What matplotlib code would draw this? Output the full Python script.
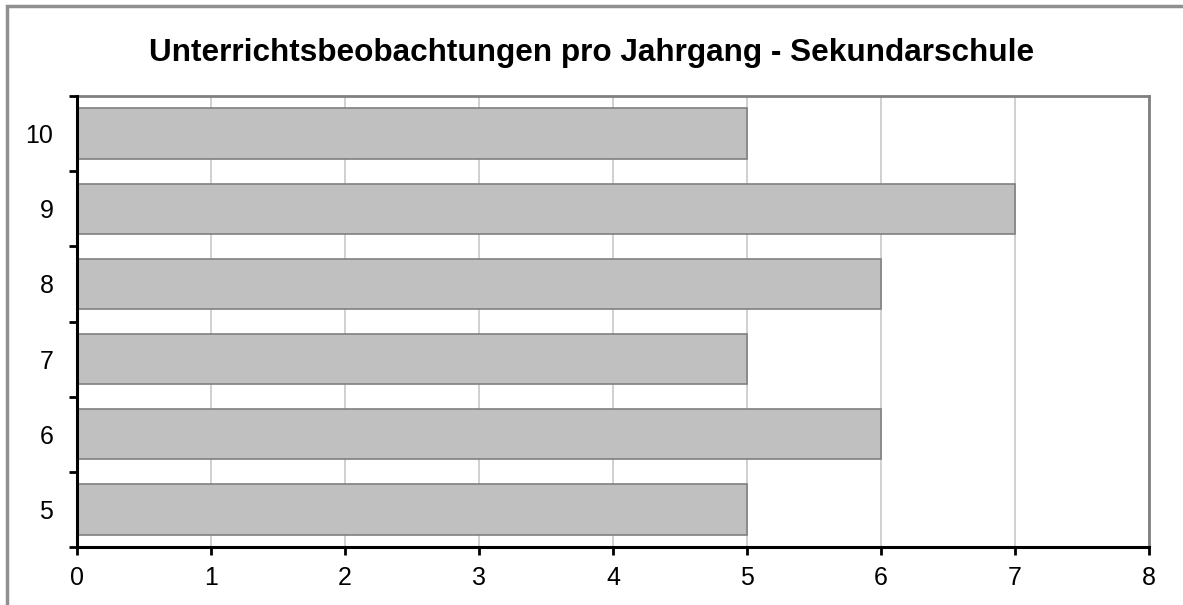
import matplotlib.pyplot as plt
from matplotlib.patches import Rectangle

plt.rcParams['font.family'] = ['Liberation Sans', 'DejaVu Sans']

jahrgang = ['5', '6', '7', '8', '9', '10']
anzahl = [5, 6, 5, 6, 7, 5]
xticks = [0, 1, 2, 3, 4, 5, 6, 7, 8]

fig = plt.figure(figsize=(11.83, 6.05), dpi=100)
W, H = 1183, 605
# plot area in pixels: left 77, right 1149, top 96, bottom 547
ax = fig.add_axes([77 / W, 1 - 547 / H, (1149 - 77) / W, (547 - 96) / H])

pos = list(range(len(jahrgang)))
ax.barh(pos, anzahl, height=0.67, color='#c0c0c0', edgecolor='#808080', linewidth=1.2, zorder=3)

ax.set_xlim(0, 8)
ax.set_ylim(-0.5, len(jahrgang) - 0.5)
ax.set_xticks(xticks)
ax.set_xticklabels([str(v) for v in xticks], fontsize=18)
ax.set_yticks(pos)
ax.set_yticklabels(jahrgang, fontsize=18)
ax.tick_params(axis='y', length=0, pad=17)
ax.set_yticks([p - 0.5 for p in pos] + [len(pos) - 0.5], minor=True)
ax.tick_params(axis='y', which='minor', length=6, width=2, direction='out')
ax.tick_params(axis='x', length=6, width=2, direction='out', pad=8)

ax.grid(axis='x', color='#c8c8c8', linewidth=1.2, zorder=0)
for s in ['left', 'bottom']:
    ax.spines[s].set_linewidth(2.2)
    ax.spines[s].set_color('black')
    ax.spines[s].set_zorder(4)
for s in ['top', 'right']:
    ax.spines[s].set_linewidth(2)
    ax.spines[s].set_color('#808080')

fig.text(0.5, 1 - 53 / H, 'Unterrichtsbeobachtungen pro Jahrgang - Sekundarschule',
         ha='center', va='center', fontsize=22.7, fontweight='bold')

# outer chart frame
fig.patches.append(Rectangle((7 / W, -0.01), 1.1, 1 - 6 / H + 0.01, transform=fig.transFigure,
                             fill=False, edgecolor='#909090', linewidth=2.5))

fig.savefig('out.png', dpi=100)
